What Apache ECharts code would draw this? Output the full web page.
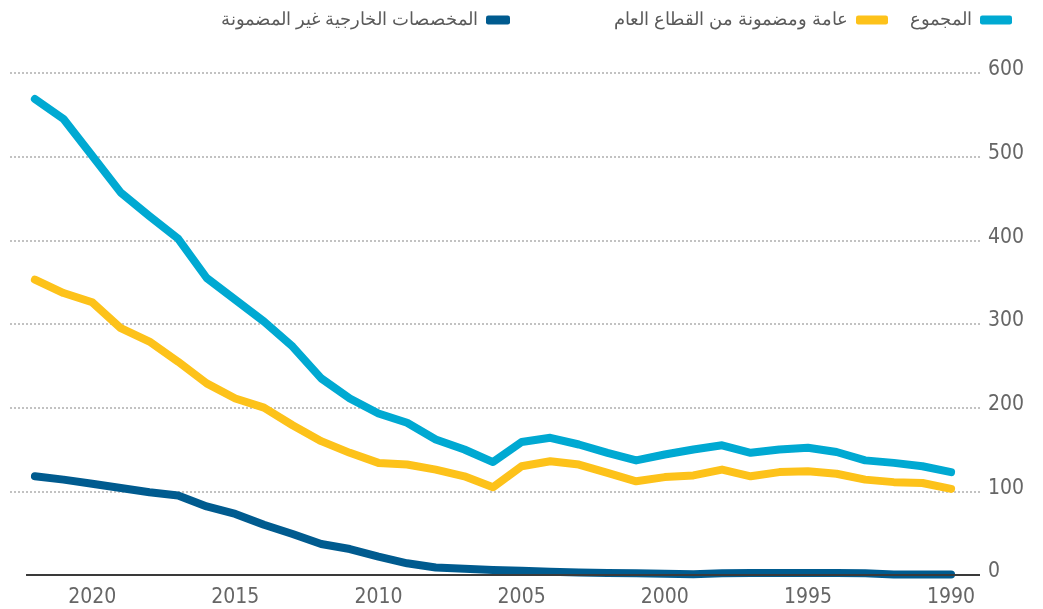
<!DOCTYPE html>
<html>
<head>
<meta charset="utf-8">
<script src="https://cdn.jsdelivr.net/npm/echarts@6/dist/echarts.min.js"></script>
<style>
  html, body { margin: 0; padding: 0; background: #fff; }
  #chart { width: 1043px; height: 609px; }
</style>
</head>
<body>
<div id="chart"></div>
<script>
// years, newest first (2022 ... 1990)
var years = [2022, 2021, 2020, 2019, 2018, 2017, 2016, 2015, 2014, 2013, 2012,
             2011, 2010, 2009, 2008, 2007, 2006, 2005, 2004, 2003, 2002, 2001,
             2000, 1999, 1998, 1997, 1996, 1995, 1994, 1993, 1992, 1991, 1990];

var totalValues = [569, 545, 501, 457, 429, 402, 355, 329, 303, 273, 235,
                   211, 193, 182, 162, 150, 135, 159, 164, 156, 146, 137,
                   144, 150, 155, 146, 150, 152, 147, 137, 134, 130, 123];

var publicValues = [353, 337, 326, 295, 279, 255, 229, 211, 200, 179, 160,
                    146, 134, 132, 126, 118, 105, 130, 136, 132, 122, 112,
                    117, 119, 126, 118, 123, 124, 121, 114, 111, 110, 103];

var privateValues = [118, 114, 109, 104, 99, 95, 82, 73, 60, 49, 37,
                     31, 22, 14, 9, 7.5, 6, 5, 4, 3, 2.5, 2,
                     1.5, 1, 2, 2.5, 2.5, 2.5, 2.5, 2, 0.5, 0.5, 0.5];

var yearTicks = [1990, 1995, 2000, 2005, 2010, 2015, 2020];

var names = ['المجموع', 'عامة ومضمونة من القطاع العام', 'المخصصات الخارجية غير المضمونة'];
var colors = ['#00a9d2', '#fdc21a', '#005b8f'];

function pairs(vals) {
    return years.map(function (y, i) { return [y, vals[i]]; });
}

var numFont = "'Liberation Sans Narrow', 'DejaVu Sans Condensed', sans-serif";
var legendText = { fontSize: 18, color: '#5a5a5a', fontFamily: 'sans-serif', padding: [0, 3, 0, 0] };

var myChart = echarts.init(document.getElementById('chart'));

var option = {
    animation: false,
    color: colors,
    tooltip: { trigger: 'axis' },
    legend: [{
        data: [names[1], names[0]],
        right: 26,
        top: 6,
        align: 'right',
        itemWidth: 32,
        itemHeight: 9,
        itemGap: 22,
        icon: 'roundRect',
        textStyle: legendText
    }, {
        data: [names[2]],
        right: 528,
        top: 6,
        align: 'right',
        itemWidth: 24,
        itemHeight: 9,
        icon: 'roundRect',
        textStyle: legendText
    }],
    grid: { left: 10, right: 63, top: 73, bottom: 34 },
    xAxis: {
        type: 'value',
        inverse: true,
        min: 1988.99,
        max: 2022.87,
        axisLine: { show: false },
        axisTick: { show: false },
        splitLine: { show: false },
        axisLabel: {
            customValues: yearTicks,
            formatter: function (v) { return String(v); },
            fontSize: 21,
            color: '#666',
            fontFamily: numFont,
            margin: 12
        }
    },
    yAxis: {
        type: 'value',
        position: 'right',
        min: 0,
        max: 600,
        interval: 100,
        axisLine: { show: false },
        axisTick: { show: false },
        axisLabel: {
            fontSize: 21,
            color: '#666',
            fontFamily: numFont,
            margin: 8,
            align: 'left',
            verticalAlign: 'bottom',
            lineHeight: 6
        },
        splitLine: {
            lineStyle: {
                color: ['rgba(0,0,0,0)', '#b3b3b3', '#b3b3b3', '#b3b3b3', '#b3b3b3', '#b3b3b3', '#b3b3b3'],
                type: [2, 2],
                width: 1.6
            }
        }
    },
    series: [{
        name: names[0],
        type: 'line',
        data: pairs(totalValues),
        symbol: 'none',
        lineStyle: { width: 8, cap: 'round', join: 'round' },
        markLine: {
            silent: true,
            symbol: 'none',
            label: { show: false },
            lineStyle: { color: '#3a3a3a', width: 2, type: 'solid' },
            data: [[{ coord: [2022.31, 0] }, { coord: [1988.99, 0] }]]
        }
    }, {
        name: names[1],
        type: 'line',
        data: pairs(publicValues),
        symbol: 'none',
        lineStyle: { width: 8, cap: 'round', join: 'round' }
    }, {
        name: names[2],
        type: 'line',
        data: pairs(privateValues),
        symbol: 'none',
        lineStyle: { width: 8, cap: 'round', join: 'round' }
    }]
};

option && myChart.setOption(option);
</script>
</body>
</html>
